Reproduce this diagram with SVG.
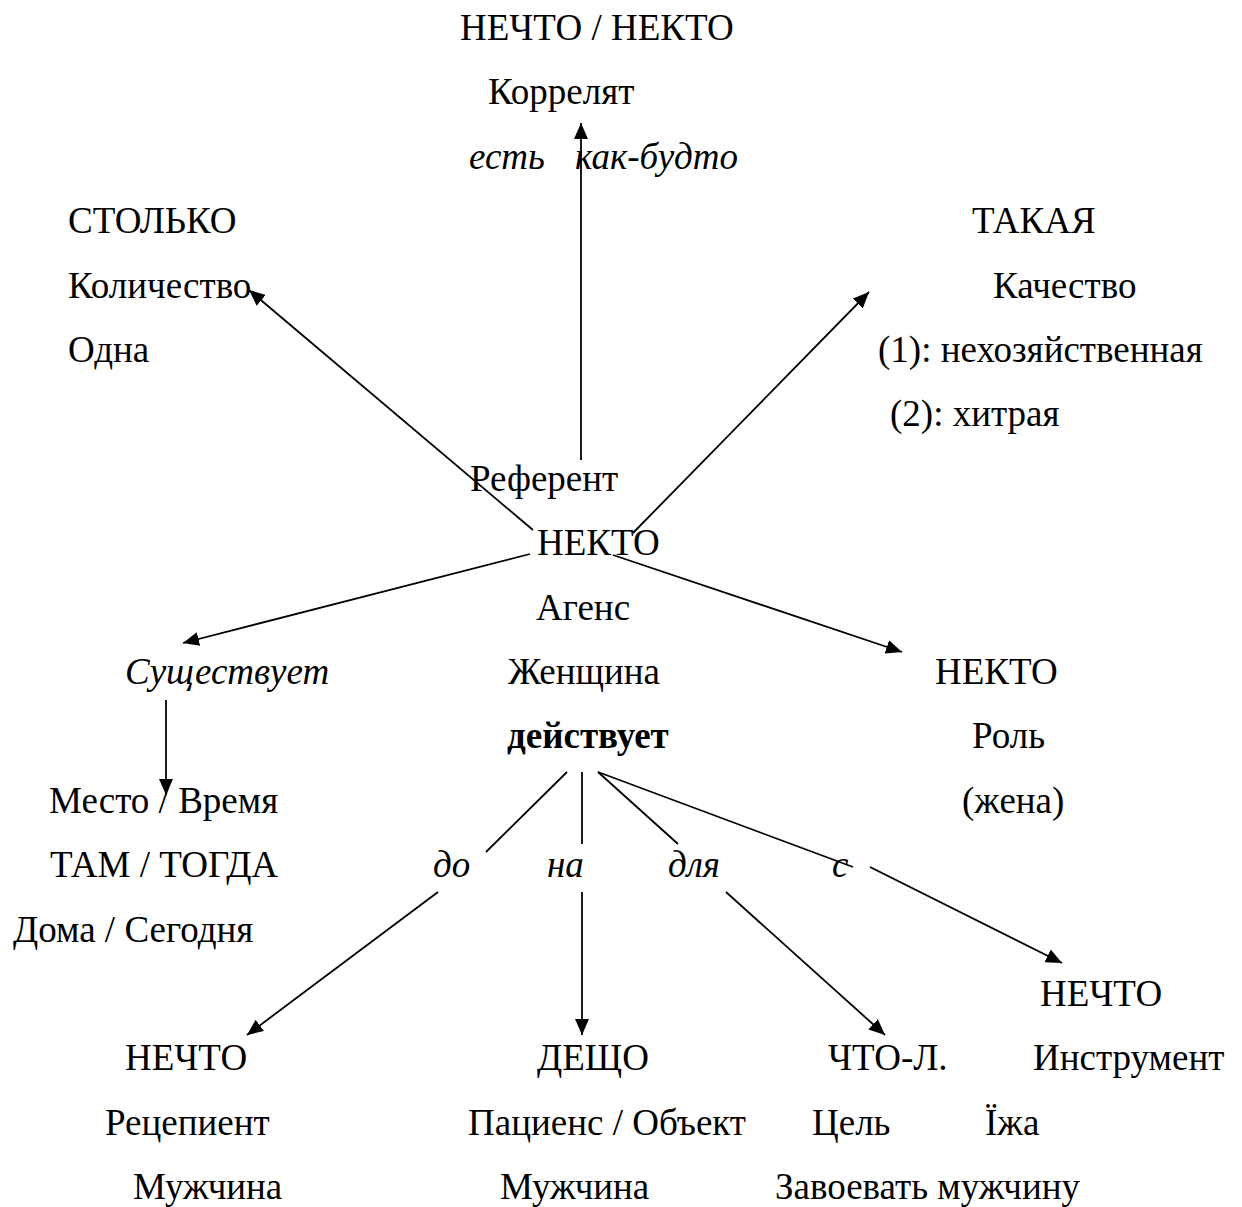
<svg xmlns="http://www.w3.org/2000/svg" width="1242" height="1207" viewBox="0 0 1242 1207">
<style>
text{font-family:"Liberation Serif","Times New Roman",serif;font-size:37px;fill:#000}
.i{font-style:italic}
.b{font-weight:bold}
.c line{stroke:#000;stroke-width:1.8;fill:none}
</style>
<defs>
<marker id="ah" markerUnits="userSpaceOnUse" markerWidth="16" markerHeight="14" refX="16" refY="7" orient="auto">
<path d="M0,0 L16,7 L0,14 z" fill="#000"/>
</marker>
</defs>
<rect width="1242" height="1207" fill="#fff"/>
<g id="correlate">
<text x="460" y="40">НЕЧТО / НЕКТО</text>
<text x="488" y="104">Коррелят</text>
<text class="i" x="469" y="169">есть</text>
<text class="i" x="575" y="169">как-будто</text>
</g>
<g id="quantity">
<text x="68" y="233">СТОЛЬКО</text>
<text x="68" y="298">Количество</text>
<text x="68" y="362">Одна</text>
</g>
<g id="quality">
<text x="972" y="233">ТАКАЯ</text>
<text x="993" y="298">Качество</text>
<text x="878" y="362">(1): нехозяйственная</text>
<text x="890" y="426">(2): хитрая</text>
</g>
<g id="referent">
<text x="470" y="491">Референт</text>
<text x="537" y="555">НЕКТО</text>
<text x="536" y="620">Агенс</text>
<text x="508" y="684">Женщина</text>
<text class="b" x="507" y="748">действует</text>
</g>
<g id="exists">
<text class="i" x="125" y="684">Существует</text>
</g>
<g id="place-time">
<text x="49" y="813">Место / Время</text>
<text x="50" y="877">ТАМ / ТОГДА</text>
<text x="13" y="942">Дома / Сегодня</text>
</g>
<g id="role">
<text x="935" y="684">НЕКТО</text>
<text x="972" y="748">Роль</text>
<text x="962" y="813">(жена)</text>
</g>
<g id="prepositions">
<text class="i" x="433" y="877">до</text>
<text class="i" x="547" y="877">на</text>
<text class="i" x="668" y="877">для</text>
<text class="i" x="832" y="877">с</text>
</g>
<g id="recipient">
<text x="125" y="1070">НЕЧТО</text>
<text x="105" y="1135">Рецепиент</text>
<text x="133" y="1199">Мужчина</text>
</g>
<g id="patient">
<text x="537" y="1070">ДЕЩО</text>
<text x="468" y="1135">Пациенс / Объект</text>
<text x="500" y="1199">Мужчина</text>
</g>
<g id="goal">
<text x="828" y="1070">ЧТО-Л.</text>
<text x="812" y="1135">Цель</text>
<text x="775" y="1199">Завоевать мужчину</text>
</g>
<g id="instrument">
<text x="1040" y="1006">НЕЧТО</text>
<text x="1033" y="1070">Инструмент</text>
<text x="985" y="1135">Їжа</text>
</g>
<g id="connectors" class="c">
<line x1="581" y1="460" x2="581" y2="123" marker-end="url(#ah)"/>
<line x1="533" y1="530" x2="249" y2="290" marker-end="url(#ah)"/>
<line x1="633" y1="533" x2="869" y2="292" marker-end="url(#ah)"/>
<line x1="530" y1="554" x2="183" y2="643" marker-end="url(#ah)"/>
<line x1="613" y1="555" x2="902" y2="652" marker-end="url(#ah)"/>
<line x1="166" y1="700" x2="166" y2="795" marker-end="url(#ah)"/>
<line x1="567" y1="772" x2="486" y2="852"/>
<line x1="438" y1="892" x2="247" y2="1035" marker-end="url(#ah)"/>
<line x1="582" y1="772" x2="582" y2="844"/>
<line x1="582" y1="892" x2="582" y2="1035" marker-end="url(#ah)"/>
<line x1="598" y1="772" x2="678" y2="844"/>
<line x1="726" y1="892" x2="885" y2="1035" marker-end="url(#ah)"/>
<line x1="598" y1="772" x2="853" y2="867"/>
<line x1="870" y1="867" x2="1062" y2="963" marker-end="url(#ah)"/>
</g>
</svg>
